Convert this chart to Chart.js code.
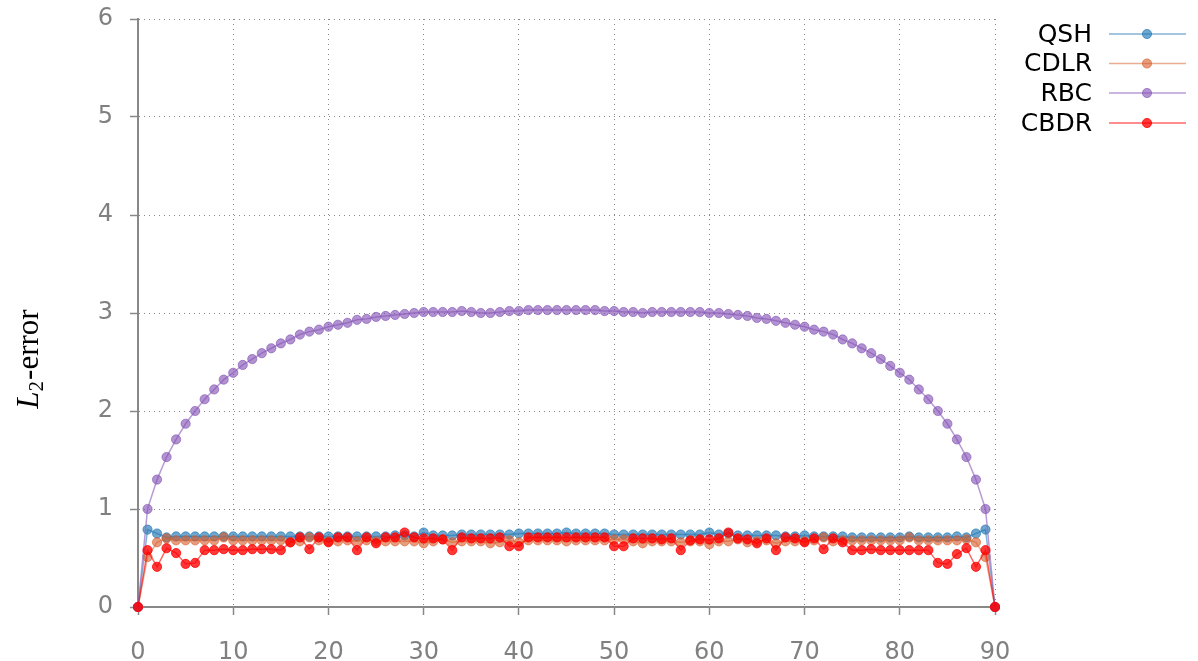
<!DOCTYPE html>
<html><head><meta charset="utf-8">
<script src="https://cdn.jsdelivr.net/npm/chart.js@4.4.0/dist/chart.umd.min.js"></script>
<style>html,body{margin:0;padding:0;background:#fff}</style>
</head><body>
<canvas id="c" width="1198" height="661" style="display:block;width:1198px;height:661px"></canvas>
<script>
const angles = [0,1,2,3,4,5,6,7,8,9,10,11,12,13,14,15,16,17,18,19,20,21,22,23,24,25,26,27,28,29,30,31,32,33,34,35,36,37,38,39,40,41,42,43,44,45,46,47,48,49,50,51,52,53,54,55,56,57,58,59,60,61,62,63,64,65,66,67,68,69,70,71,72,73,74,75,76,77,78,79,80,81,82,83,84,85,86,87,88,89,90];
const qsh = [0,0.79,0.75,0.71,0.72,0.72,0.72,0.72,0.72,0.72,
0.72,0.72,0.72,0.72,0.72,0.72,0.72,0.72,0.72,0.72,
0.72,0.72,0.72,0.72,0.72,0.72,0.72,0.73,0.73,0.72,
0.76,0.73,0.73,0.73,0.74,0.74,0.74,0.74,0.74,0.74,
0.75,0.75,0.75,0.75,0.75,0.76,0.75,0.75,0.75,0.75,
0.74,0.74,0.74,0.74,0.74,0.74,0.74,0.74,0.74,0.74,
0.76,0.74,0.75,0.73,0.73,0.73,0.73,0.73,0.72,0.72,
0.73,0.72,0.72,0.72,0.72,0.71,0.71,0.71,0.71,0.71,
0.71,0.72,0.71,0.71,0.71,0.71,0.72,0.71,0.75,0.79,0];
const cdlr = [0,0.51,0.66,0.70,0.68,0.68,0.68,0.68,0.68,0.71,
0.68,0.68,0.68,0.68,0.68,0.68,0.66,0.67,0.71,0.68,
0.67,0.67,0.68,0.67,0.68,0.67,0.67,0.67,0.67,0.67,
0.65,0.67,0.69,0.66,0.67,0.67,0.67,0.65,0.66,0.68,
0.66,0.68,0.68,0.68,0.68,0.67,0.68,0.68,0.68,0.68,
0.69,0.69,0.67,0.65,0.67,0.67,0.67,0.66,0.67,0.67,
0.64,0.67,0.67,0.69,0.66,0.67,0.68,0.65,0.67,0.67,
0.67,0.68,0.71,0.67,0.68,0.68,0.68,0.68,0.68,0.68,
0.68,0.71,0.68,0.68,0.68,0.68,0.68,0.69,0.66,0.51,0];
const rbc = [0,1.00,1.30,1.53,1.71,1.87,2.00,2.12,2.22,2.32,
2.39,2.47,2.53,2.59,2.64,2.69,2.73,2.78,2.81,2.83,
2.86,2.88,2.90,2.93,2.94,2.96,2.97,2.98,2.99,3.00,
3.01,3.01,3.01,3.01,3.02,3.01,3.00,3.00,3.01,3.02,
3.02,3.03,3.03,3.03,3.03,3.03,3.03,3.03,3.03,3.02,
3.02,3.01,3.01,3.00,3.01,3.01,3.01,3.01,3.01,3.01,
3.00,3.00,2.99,2.98,2.97,2.95,2.94,2.92,2.90,2.88,
2.86,2.83,2.81,2.78,2.73,2.69,2.64,2.59,2.53,2.46,
2.39,2.32,2.22,2.12,2.00,1.87,1.71,1.53,1.30,1.00,0];
const cbdr = [0,0.58,0.41,0.60,0.55,0.44,0.45,0.58,0.58,0.59,
0.58,0.58,0.59,0.59,0.59,0.58,0.66,0.71,0.59,0.71,
0.66,0.71,0.71,0.58,0.71,0.65,0.71,0.71,0.76,0.71,
0.70,0.70,0.69,0.58,0.71,0.70,0.70,0.70,0.71,0.62,
0.62,0.71,0.71,0.71,0.71,0.71,0.71,0.71,0.71,0.71,
0.62,0.62,0.70,0.70,0.70,0.69,0.70,0.58,0.68,0.69,
0.69,0.70,0.76,0.70,0.69,0.65,0.70,0.58,0.71,0.70,
0.66,0.70,0.59,0.70,0.66,0.58,0.58,0.59,0.58,0.58,
0.58,0.58,0.58,0.58,0.45,0.44,0.54,0.60,0.41,0.58,0];
const seriesNames = ['QSH','CDLR','RBC','CBDR'];
const xTicks = [0,10,20,30,40,50,60,70,80,90];
const yTicks = [0,1,2,3,4,5,6];

const lineColors = ['rgba(31,119,180,0.55)','rgba(215,90,40,0.5)','rgba(148,103,189,0.65)','rgba(255,0,0,0.6)'];
const pointColors = ['rgba(31,119,180,0.65)','rgba(215,90,40,0.6)','rgba(130,80,180,0.62)','rgba(255,0,0,0.78)'];
const seriesValues = [qsh, cdlr, rbc, cbdr];

const datasets = seriesValues.map((vals, i) => ({
  label: seriesNames[i],
  data: angles.map((a, j) => ({x: a, y: vals[j]})),
  borderColor: lineColors[i],
  backgroundColor: pointColors[i],
  pointBackgroundColor: pointColors[i],
  pointBorderColor: pointColors[i],
  pointBorderWidth: 1,
  pointRadius: 4.6,
  borderWidth: 1.5,
  tension: 0,
  clip: false,
  order: 3 - i
}));

const legendPlugin = {
  id: 'customLegend',
  afterDraw(chart) {
    const ctx = chart.ctx;
    ctx.save();
    ctx.font = '25px "DejaVu Sans"';
    ctx.textAlign = 'right';
    ctx.textBaseline = 'middle';
    const ys = [34, 63.5, 93, 123];
    seriesNames.forEach((n, i) => {
      const y = ys[i];
      ctx.fillStyle = '#000';
      ctx.fillText(n, 1092, y + 1);
      ctx.strokeStyle = lineColors[i];
      ctx.lineWidth = 1.5;
      ctx.beginPath(); ctx.moveTo(1109, y); ctx.lineTo(1186, y); ctx.stroke();
      ctx.fillStyle = pointColors[i];
      ctx.strokeStyle = pointColors[i];
      ctx.lineWidth = 1;
      ctx.beginPath(); ctx.arc(1147, y, 4.6, 0, Math.PI * 2); ctx.fill(); ctx.stroke();
    });
    // y axis title  L_2-error
    ctx.translate(38, 359);
    ctx.rotate(-Math.PI / 2);
    ctx.textAlign = 'left';
    ctx.textBaseline = 'alphabetic';
    ctx.fillStyle = '#000';
    const fL = 'italic 31px "Liberation Serif"';
    const f2 = '21px "Liberation Serif"';
    const fR = '31px "Liberation Serif"';
    ctx.font = fL; const wL = ctx.measureText('L').width;
    ctx.font = f2; const w2 = ctx.measureText('2').width;
    ctx.font = fR; const wR = ctx.measureText('-error').width;
    const total = wL + w2 + 1 + wR;
    let x = -total / 2;
    ctx.font = fL; ctx.fillText('L', x, 0); x += wL;
    ctx.font = f2; ctx.fillText('2', x, 5); x += w2 + 1;
    ctx.font = fR; ctx.fillText('-error', x, 0);
    ctx.restore();
  }
};

new Chart(document.getElementById('c'), {
  type: 'line',
  data: { datasets },
  options: {
    responsive: false,
    animation: false,
    devicePixelRatio: 1,
    layout: { padding: { left: 0, right: 203, top: 19, bottom: 0 } },
    plugins: { legend: { display: false }, tooltip: { enabled: false } },
    scales: {
      x: {
        type: 'linear', min: 0, max: 90,
        afterFit(s) { s.height = 54; s.paddingLeft = 0; s.paddingRight = 0; },
        afterBuildTicks(s) { s.ticks = xTicks.map(v => ({value: v})); },
        ticks: { font: { family: 'DejaVu Sans', size: 24 }, color: '#808080', padding: 23, maxRotation: 0 },
        grid: { color: '#888', lineWidth: 1, tickLength: 8, tickColor: '#888', tickWidth: 1.5 },
        border: { display: true, color: '#888', width: 2, dash: [1, 4] }
      },
      y: {
        type: 'linear', min: 0, max: 6,
        afterFit(s) { s.width = 138; s.paddingTop = 0; s.paddingBottom = 0; },
        afterBuildTicks(s) { s.ticks = yTicks.map(v => ({value: v})); },
        ticks: { font: { family: 'DejaVu Sans', size: 24 }, color: '#808080', padding: 17 },
        grid: { color: '#888', lineWidth: 1, tickLength: 8, tickColor: '#888', tickWidth: 1.5 },
        border: { display: true, color: '#888', width: 2, dash: [1, 4] }
      }
    }
  },
  plugins: [legendPlugin]
});
</script>
</body></html>
